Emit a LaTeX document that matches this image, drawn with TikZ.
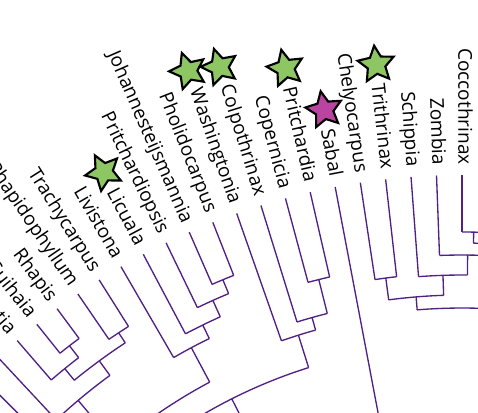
\documentclass[tikz,border=0pt]{standalone}
\usepackage{fontspec}
\setmainfont{Open Sans}
\usetikzlibrary{shapes.geometric,calc}
\begin{document}
\begin{tikzpicture}[x=0.75pt,y=0.75pt,
  branch/.style={color={rgb, 255:red, 80; green, 32; blue, 130}, line width=1pt},
  taxon/.style={anchor=mid east, inner sep=0pt, font=\fontsize{14.3}{16}\selectfont},
  starmark/.style={star, star points=5, star point ratio=2.05, minimum size=28.5pt, inner sep=0pt, draw=black, line width=1.6pt},
  greenstar/.style={starmark, fill={rgb, 255:red, 141; green, 198; blue, 99}},
  pinkstar/.style={starmark, fill={rgb, 255:red, 187; green, 68; blue, 160}}]
\useasboundingbox (0,0) rectangle (478,-413);
\clip (0,0) rectangle (478,-413);

% centre of the fan
\begin{scope}[shift={(462,-855)}]

%Tip branches
\foreach \k/\p in {-3/630,-2/630,-1/623,0/623,1/600,2/580,3/582,4/582,5/420,6/593,7/593,8/558,9/545,10/623,11/623,12/608,13/590,14/575,15/625,16/625,17/643,18/643,19/628,20/600,21/600}
  \draw[branch] ({90+2.15*\k}:680) -- ({90+2.15*\k}:\p);

%Inner branches: radius / first child / last child / parent radius
\foreach \r/\a/\b/\p in {623/87.85/90/612, 630/83.55/85.7/612, 612/84.625/88.925/600, 600/86.775/92.15/580, 580/89.4625/94.3/560, 582/96.45/98.6/560, 560/91.88/97.525/547, 547/80/94.7025/500, 593/102.9/105.05/558, 558/103.975/107.2/545, 545/105.5875/109.35/511, 623/111.5/113.65/608, 608/112.575/115.8/590, 590/114.1875/117.95/575, 575/116.07/120.1/536, 625/122.25/124.4/613, 643/126.55/128.7/628, 628/127.625/130.85/613, 613/123.325/129.24/595, 600/133/135.15/595, 595/126.28/134.075/565, 565/130.18/138/536, 536/118.085/134.09/511, 511/107.47/126.09/470}
  \draw[branch] (\a:\r) arc[start angle=\a, end angle=\b, radius=\r] ({(\a+\b)/2}:\r) -- ({(\a+\b)/2}:\p);

% Text Node
\foreach \k/\name in {0/Coccothrinax, 1/Zombia, 2/Schippia, 3/Trithrinax, 4/Chelyocarpus, 5/Sabal, 6/Pritchardia, 7/Copernicia, 8/Colpothrinax, 9/Washingtonia, 10/Pholidocarpus, 11/Johannesteijsmannia, 12/Pritchardiopsis, 13/Licuala, 14/Livistona, 15/Trachycarpus, 16/Rhapidophyllum, 17/Rhapis, 18/Guihaia, 19/Maxburretia}{
  \pgfmathsetmacro\a{90+2.15*\k}
  \pgfmathsetmacro\rot{\a-180}
  \node[taxon, rotate=\rot] (\name) at (\a:690) {\name};
}

%Stars
\foreach \name/\k in {Washingtonia/9, Colpothrinax/8, Pritchardia/6, Trithrinax/3, Licuala/13}{
  \pgfmathsetmacro\a{90+2.15*\k}
  \pgfmathsetmacro\rot{\a-90}
  \node[greenstar, rotate=\rot] at ($(\name.west)+(\a:19)$) {};
}
\node[pinkstar, rotate=10.75] at ($(Sabal.west)+(100.75:19)$) {};

\end{scope}
\end{tikzpicture}
\end{document}
